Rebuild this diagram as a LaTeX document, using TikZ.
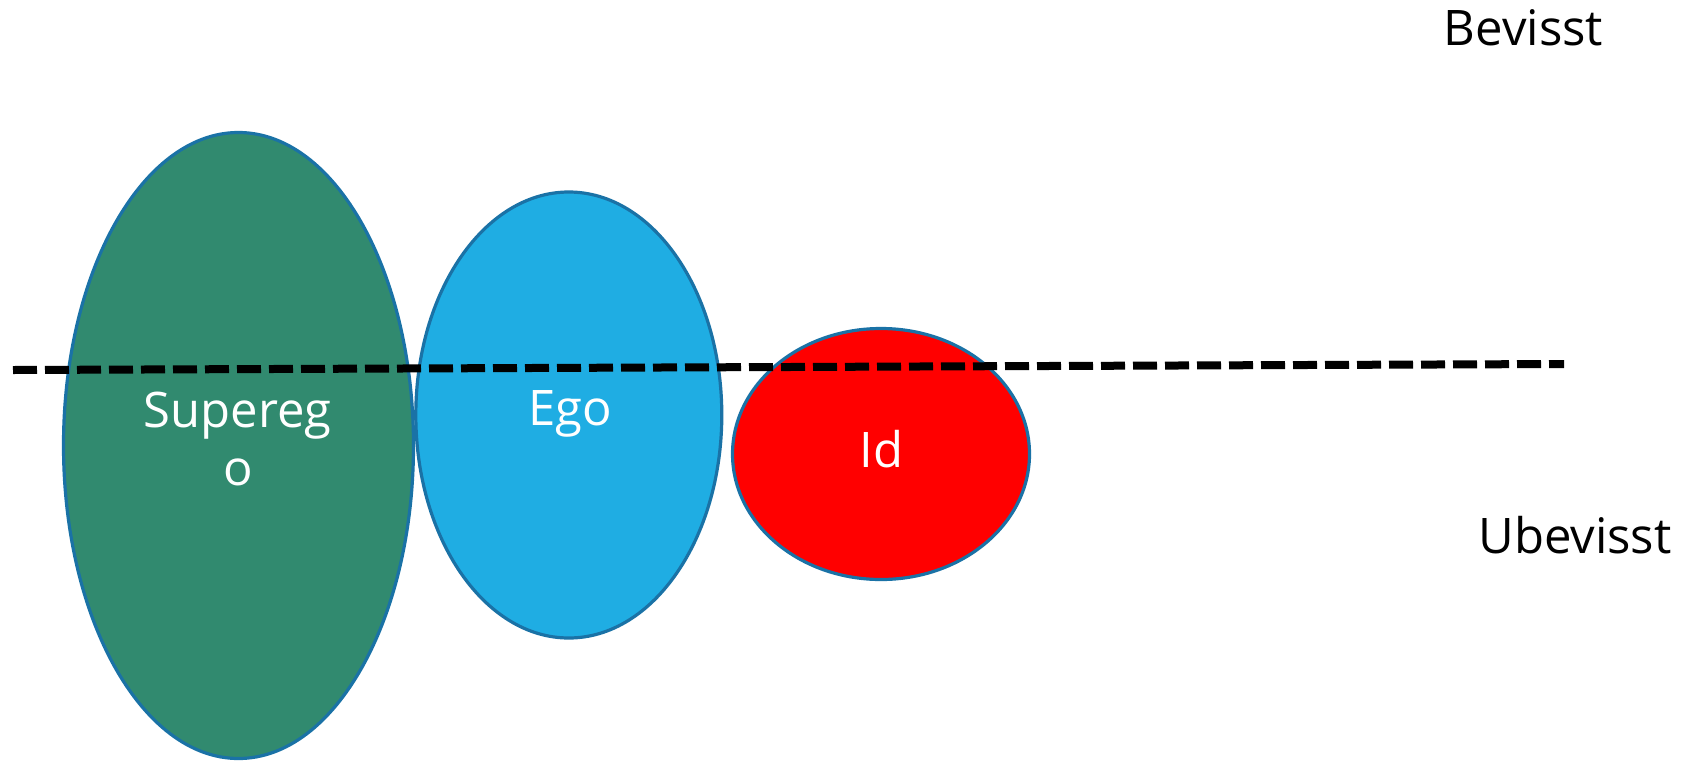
\documentclass[tikz,border=0pt]{standalone}
\usepackage{fontspec}
\setmainfont{Open Sans}
\usetikzlibrary{shapes.geometric}
\definecolor{supgreen}{HTML}{318A6F}
\definecolor{egoblue}{HTML}{1FADE3}
\definecolor{idred}{HTML}{FF0000}
\definecolor{rim}{HTML}{1A72A6}
\tikzset{
  blob/.style={ellipse, draw=rim, line width=3.2pt, inner sep=0pt, outer sep=0pt},
  lbl/.style={anchor=base, inner sep=0pt, font=\fontsize{49}{58}\selectfont},
  wlbl/.style={lbl, text=white},
  divider/.style={line width=8pt, dash pattern=on 24pt off 8pt, line cap=butt}
}
\begin{document}
\begin{tikzpicture}[x=1pt,y=-1pt]
\useasboundingbox (0,0) rectangle (1683,761);
\node[blob, fill=supgreen, minimum width=350pt, minimum height=626pt] (superego) at (238.5,445.5) {};
\node[blob, fill=egoblue, minimum width=306pt, minimum height=446pt] (ego) at (568.8,415) {};
\node[blob, fill=idred, minimum width=297pt, minimum height=251pt] (id) at (881,454) {};
\coordinate (dl) at (13,370);
\coordinate (dr) at (1564,364);
\draw[divider] (dl) -- (dr);
\node[wlbl] (tsup1) at (237.5,427) {Supereg};
\node[wlbl] (tsup2) at (238.5,485) {o};
\node[wlbl] (tego) at (570,425) {Ego};
\node[wlbl] (tid) at (881.5,467) {Id};
\node[lbl] (bev) at (1523.5,45) {Bevisst};
\node[lbl] (ubev) at (1575,553) {Ubevisst};
\end{tikzpicture}
\end{document}
